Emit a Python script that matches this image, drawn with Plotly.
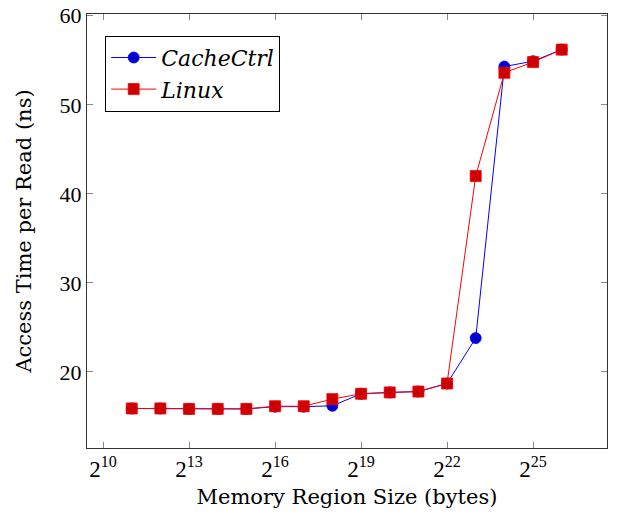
import plotly.graph_objects as go

exponents = list(range(11, 27))
sizes = [2 ** e for e in exponents]
cachectrl = [15.9, 15.9, 15.85, 15.85, 15.85, 16.1, 16.1, 16.2, 17.55, 17.7, 17.8, 18.7, 23.8, 54.3, 54.9, 56.2]
linux = [15.9, 15.9, 15.85, 15.85, 15.85, 16.15, 16.15, 16.95, 17.55, 17.7, 17.8, 18.7, 42.0, 53.6, 54.8, 56.2]

tick_exps = [10, 13, 16, 19, 22, 25]
tick_vals = [2 ** e for e in tick_exps]
tick_text = [f"2<sup>{e}</sup>" for e in tick_exps]
y_ticks = [20, 30, 40, 50, 60]

FONT = "Liberation Serif"
TFONT = "DejaVu Serif"
LOG2 = 0.30102999566

fig = go.Figure()
fig.add_trace(go.Scatter(
    x=sizes, y=cachectrl, mode="lines+markers", name="<i>CacheCtrl</i>",
    line=dict(color="#0000ff", width=1),
    marker=dict(symbol="circle", size=11, color="#0000cc", line=dict(color="#0000ff", width=0.8)),
))
fig.add_trace(go.Scatter(
    x=sizes, y=linux, mode="lines+markers", name="<i>Linux</i>",
    line=dict(color="#ff0000", width=1),
    marker=dict(symbol="square", size=11, color="#cc0000", line=dict(color="#ff0000", width=0.8)),
))

axis_common = dict(
    showgrid=False, zeroline=False, showline=True, linecolor="#333333", linewidth=1.3,
    mirror="ticks", ticks="inside", ticklen=6, tickcolor="#888888", tickwidth=1,
    automargin=False,
)

fig.update_layout(
    width=617, height=515,
    margin=dict(l=87, r=10, t=14, b=67),
    paper_bgcolor="white", plot_bgcolor="white",
    font=dict(family=FONT, size=22, color="black"),
    xaxis=dict(
        type="log", range=[9.44 * LOG2, 27.58 * LOG2],
        tickvals=tick_vals, ticktext=tick_text, tickfont=dict(size=23),
        title=dict(text="Memory Region Size (bytes)", font=dict(family=TFONT, size=21), standoff=8),
        **axis_common,
    ),
    yaxis=dict(
        range=[11.46, 60.2], tickvals=y_ticks, tickfont=dict(size=22),
        title=dict(text="Access Time per Read (ns)", font=dict(family=TFONT, size=21), standoff=22),
        **axis_common,
    ),
    legend=dict(
        x=0.035, y=0.95, xanchor="left", yanchor="top",
        bgcolor="white", bordercolor="black", borderwidth=1,
        font=dict(family=TFONT, size=22), itemwidth=45, tracegroupgap=2,
    ),
    showlegend=True,
)

fig.write_html("out.html")
